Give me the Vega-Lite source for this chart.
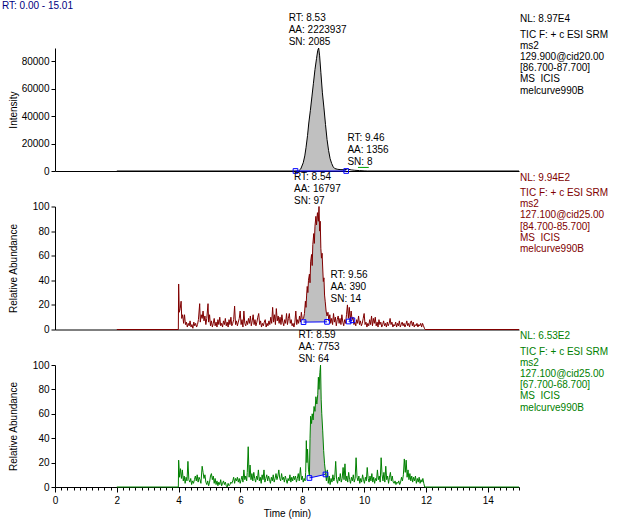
{
"$schema": "https://vega.github.io/schema/vega-lite/v6.json",
"background": "white",
"padding": {"left": 2, "top": 1, "right": 2, "bottom": 2},
"spacing": 35.5,
"bounds": "flush",
"datasets": {
"p1": [{"t":2,"v":0},{"t":7.8,"v":0},{"t":7.88,"v":0,"b":0},{"t":7.95,"v":1500,"b":0},{"t":8.03,"v":6000,"b":0},{"t":8.08,"v":11000,"b":0},{"t":8.12,"v":17000,"b":0},{"t":8.17,"v":26000,"b":0},{"t":8.21,"v":35000,"b":0},{"t":8.26,"v":44000,"b":0},{"t":8.31,"v":54000,"b":0},{"t":8.36,"v":64000,"b":0},{"t":8.41,"v":74000,"b":0},{"t":8.46,"v":82000,"b":0},{"t":8.5,"v":88000,"b":0},{"t":8.53,"v":89700,"b":0},{"t":8.56,"v":84000,"b":0},{"t":8.6,"v":72000,"b":0},{"t":8.65,"v":57000,"b":0},{"t":8.7,"v":46000,"b":0},{"t":8.75,"v":34000,"b":0},{"t":8.8,"v":23000,"b":0},{"t":8.85,"v":15000,"b":0},{"t":8.9,"v":9000,"b":0},{"t":8.95,"v":5500,"b":0},{"t":9.0,"v":3000,"b":0},{"t":9.05,"v":1800,"b":0},{"t":9.15,"v":1200,"b":0},{"t":9.25,"v":1000,"b":0},{"t":9.35,"v":900,"b":0},{"t":9.42,"v":1100,"b":0},{"t":9.46,"v":1600},{"t":9.5,"v":1200},{"t":9.58,"v":800},{"t":9.7,"v":500},{"t":9.85,"v":300},{"t":10.0,"v":100},{"t":10.1,"v":0},{"t":15.01,"v":0}],
"p2": [{"t":2,"v":0},{"t":3.99,"v":0},{"t":4,"v":37},{"t":4.02,"v":14},{"t":4.05,"v":17},{"t":4.08,"v":23},{"t":4.1,"v":9},{"t":4.13,"v":12},{"t":4.16,"v":5},{"t":4.19,"v":12},{"t":4.22,"v":4},{"t":4.25,"v":6},{"t":4.28,"v":2},{"t":4.31,"v":5},{"t":4.34,"v":3},{"t":4.37,"v":7},{"t":4.4,"v":2},{"t":4.43,"v":4},{"t":4.46,"v":1},{"t":4.49,"v":6},{"t":4.52,"v":3},{"t":4.55,"v":5},{"t":4.58,"v":2},{"t":4.61,"v":4},{"t":4.64,"v":8},{"t":4.68,"v":21},{"t":4.7,"v":6},{"t":4.73,"v":12},{"t":4.76,"v":9},{"t":4.79,"v":15},{"t":4.82,"v":7},{"t":4.85,"v":11},{"t":4.88,"v":4},{"t":4.91,"v":9},{"t":4.95,"v":21},{"t":4.97,"v":6},{"t":5,"v":12},{"t":5.03,"v":3},{"t":5.06,"v":7},{"t":5.09,"v":2},{"t":5.12,"v":5},{"t":5.15,"v":9},{"t":5.18,"v":3},{"t":5.21,"v":6},{"t":5.24,"v":2},{"t":5.27,"v":8},{"t":5.3,"v":4},{"t":5.33,"v":10},{"t":5.36,"v":3},{"t":5.39,"v":5},{"t":5.42,"v":2},{"t":5.45,"v":7},{"t":5.48,"v":4},{"t":5.51,"v":9},{"t":5.54,"v":3},{"t":5.57,"v":6},{"t":5.6,"v":2},{"t":5.63,"v":8},{"t":5.66,"v":4},{"t":5.69,"v":10},{"t":5.72,"v":3},{"t":5.75,"v":5},{"t":5.78,"v":8},{"t":5.81,"v":19},{"t":5.84,"v":4},{"t":5.87,"v":7},{"t":5.9,"v":3},{"t":5.93,"v":6},{"t":5.96,"v":9},{"t":5.99,"v":15},{"t":6.02,"v":4},{"t":6.05,"v":8},{"t":6.08,"v":2},{"t":6.11,"v":15},{"t":6.14,"v":5},{"t":6.17,"v":3},{"t":6.2,"v":7},{"t":6.23,"v":4},{"t":6.26,"v":9},{"t":6.29,"v":5},{"t":6.32,"v":11},{"t":6.35,"v":3},{"t":6.38,"v":7},{"t":6.41,"v":12},{"t":6.44,"v":4},{"t":6.47,"v":8},{"t":6.5,"v":3},{"t":6.53,"v":6},{"t":6.56,"v":10},{"t":6.59,"v":13},{"t":6.62,"v":4},{"t":6.65,"v":7},{"t":6.68,"v":2},{"t":6.71,"v":5},{"t":6.74,"v":3},{"t":6.77,"v":6},{"t":6.8,"v":8},{"t":6.83,"v":2},{"t":6.86,"v":5},{"t":6.89,"v":3},{"t":6.92,"v":7},{"t":6.95,"v":4},{"t":6.98,"v":10},{"t":7.01,"v":5},{"t":7.04,"v":18},{"t":7.07,"v":6},{"t":7.1,"v":12},{"t":7.13,"v":4},{"t":7.16,"v":17},{"t":7.19,"v":7},{"t":7.22,"v":11},{"t":7.25,"v":5},{"t":7.28,"v":10},{"t":7.31,"v":4},{"t":7.34,"v":12},{"t":7.37,"v":6},{"t":7.4,"v":3},{"t":7.43,"v":8},{"t":7.46,"v":5},{"t":7.49,"v":13},{"t":7.52,"v":4},{"t":7.55,"v":9},{"t":7.58,"v":13},{"t":7.61,"v":5},{"t":7.64,"v":8},{"t":7.67,"v":3},{"t":7.7,"v":5},{"t":7.73,"v":2},{"t":7.76,"v":6},{"t":7.79,"v":15},{"t":7.82,"v":4},{"t":7.85,"v":8},{"t":7.88,"v":5},{"t":7.91,"v":11},{"t":7.94,"v":6},{"t":7.97,"v":14},{"t":8,"v":8},
{"t":8.04,"v":9,"b":6},{"t":8.07,"v":13,"b":6},{"t":8.1,"v":23,"b":6},{"t":8.12,"v":18,"b":6},{"t":8.14,"v":28,"b":6},{"t":8.16,"v":35,"b":6},{"t":8.18,"v":30,"b":6},{"t":8.2,"v":40,"b":6},{"t":8.23,"v":45,"b":6},{"t":8.25,"v":38,"b":6},{"t":8.27,"v":55,"b":6},{"t":8.3,"v":61,"b":6},{"t":8.32,"v":52,"b":6},{"t":8.34,"v":69,"b":6},{"t":8.37,"v":78,"b":6},{"t":8.39,"v":70,"b":6.1},{"t":8.41,"v":84,"b":6.1},{"t":8.44,"v":92,"b":6.1},{"t":8.46,"v":85,"b":6.1},{"t":8.49,"v":95,"b":6.1},{"t":8.52,"v":88,"b":6.1},{"t":8.54,"v":100,"b":6.1},{"t":8.56,"v":80,"b":6.1},{"t":8.58,"v":88,"b":6.1},{"t":8.6,"v":66,"b":6.1},{"t":8.62,"v":58,"b":6.1},{"t":8.64,"v":62,"b":6.2},{"t":8.66,"v":50,"b":6.2},{"t":8.68,"v":39,"b":6.2},{"t":8.7,"v":42,"b":6.2},{"t":8.72,"v":28,"b":6.2},{"t":8.74,"v":23,"b":6.2},{"t":8.77,"v":15,"b":6.2},{"t":8.8,"v":11,"b":6.2},
{"t":8.83,"v":14},{"t":8.86,"v":7},{"t":8.89,"v":12},{"t":8.92,"v":5},{"t":8.95,"v":9},{"t":8.98,"v":4},{"t":9.01,"v":13},{"t":9.04,"v":6},{"t":9.07,"v":10},{"t":9.1,"v":3},{"t":9.13,"v":8},{"t":9.16,"v":11},{"t":9.19,"v":5},{"t":9.22,"v":9},{"t":9.25,"v":4},{"t":9.28,"v":12},{"t":9.31,"v":6},{"t":9.34,"v":3},{"t":9.37,"v":8},{"t":9.4,"v":5},{"t":9.43,"v":12},{"t":9.46,"v":20},{"t":9.49,"v":9},{"t":9.52,"v":18},{"t":9.55,"v":7},{"t":9.58,"v":15},{"t":9.61,"v":8},{"t":9.64,"v":10},{"t":9.67,"v":4},{"t":9.7,"v":6},{"t":9.73,"v":3},{"t":9.76,"v":8},{"t":9.79,"v":5},{"t":9.82,"v":11},{"t":9.85,"v":4},{"t":9.88,"v":7},{"t":9.91,"v":3},{"t":9.94,"v":5},{"t":9.97,"v":9},{"t":10,"v":13},{"t":10.03,"v":4},{"t":10.06,"v":6},{"t":10.09,"v":2},{"t":10.12,"v":5},{"t":10.15,"v":3},{"t":10.18,"v":8},{"t":10.21,"v":4},{"t":10.24,"v":11},{"t":10.27,"v":3},{"t":10.3,"v":9},{"t":10.33,"v":5},{"t":10.36,"v":10},{"t":10.39,"v":3},{"t":10.42,"v":6},{"t":10.45,"v":2},{"t":10.48,"v":8},{"t":10.51,"v":4},{"t":10.54,"v":6},{"t":10.57,"v":2},{"t":10.6,"v":4},{"t":10.63,"v":7},{"t":10.66,"v":3},{"t":10.69,"v":5},{"t":10.72,"v":2},{"t":10.75,"v":6},{"t":10.78,"v":3},{"t":10.81,"v":5},{"t":10.84,"v":9},{"t":10.87,"v":4},{"t":10.9,"v":6},{"t":10.93,"v":2},{"t":10.96,"v":4},{"t":10.99,"v":3},{"t":11.02,"v":6},{"t":11.05,"v":2},{"t":11.08,"v":5},{"t":11.11,"v":3},{"t":11.14,"v":7},{"t":11.17,"v":2},{"t":11.2,"v":4},{"t":11.23,"v":6},{"t":11.26,"v":3},{"t":11.29,"v":5},{"t":11.32,"v":2},{"t":11.35,"v":4},{"t":11.38,"v":7},{"t":11.41,"v":3},{"t":11.44,"v":5},{"t":11.47,"v":2},{"t":11.5,"v":6},{"t":11.53,"v":7},{"t":11.56,"v":3},{"t":11.59,"v":6},{"t":11.62,"v":2},{"t":11.65,"v":4},{"t":11.68,"v":3},{"t":11.71,"v":5},{"t":11.74,"v":2},{"t":11.77,"v":4},{"t":11.8,"v":3},{"t":11.83,"v":5},{"t":11.86,"v":2},{"t":11.89,"v":5},{"t":11.92,"v":3},{"t":11.95,"v":1},{"t":11.97,"v":0},{"t":15.01,"v":0}],
"p3": [{"t":2,"v":0},{"t":3.99,"v":0},{"t":4,"v":22},{"t":4.03,"v":8},{"t":4.06,"v":15},{"t":4.09,"v":7},{"t":4.12,"v":14},{"t":4.15,"v":5},{"t":4.18,"v":9},{"t":4.21,"v":3},{"t":4.24,"v":8},{"t":4.27,"v":5},{"t":4.3,"v":21},{"t":4.33,"v":6},{"t":4.36,"v":4},{"t":4.39,"v":7},{"t":4.42,"v":2},{"t":4.45,"v":5},{"t":4.48,"v":3},{"t":4.51,"v":6},{"t":4.54,"v":9},{"t":4.57,"v":5},{"t":4.6,"v":10},{"t":4.63,"v":4},{"t":4.66,"v":8},{"t":4.69,"v":6},{"t":4.72,"v":3},{"t":4.76,"v":17},{"t":4.79,"v":12},{"t":4.82,"v":7},{"t":4.85,"v":10},{"t":4.88,"v":4},{"t":4.91,"v":2},{"t":4.94,"v":5},{"t":4.97,"v":1},{"t":5,"v":4},{"t":5.03,"v":9},{"t":5.06,"v":11},{"t":5.09,"v":6},{"t":5.12,"v":9},{"t":5.15,"v":3},{"t":5.18,"v":7},{"t":5.21,"v":2},{"t":5.24,"v":5},{"t":5.27,"v":1},{"t":5.3,"v":4},{"t":5.33,"v":2},{"t":5.36,"v":6},{"t":5.39,"v":1},{"t":5.42,"v":3},{"t":5.45,"v":5},{"t":5.48,"v":2},{"t":5.51,"v":4},{"t":5.54,"v":1},{"t":5.57,"v":0},{"t":5.6,"v":3},{"t":5.63,"v":1},{"t":5.66,"v":2},{"t":5.69,"v":4},{"t":5.72,"v":3},{"t":5.75,"v":5},{"t":5.78,"v":8},{"t":5.81,"v":3},{"t":5.84,"v":7},{"t":5.87,"v":5},{"t":5.9,"v":8},{"t":5.93,"v":4},{"t":5.96,"v":7},{"t":5.99,"v":3},{"t":6.02,"v":6},{"t":6.05,"v":9},{"t":6.08,"v":4},{"t":6.11,"v":14},{"t":6.14,"v":6},{"t":6.17,"v":9},{"t":6.2,"v":5},{"t":6.22,"v":12},{"t":6.25,"v":33},{"t":6.28,"v":8},{"t":6.31,"v":18},{"t":6.34,"v":6},{"t":6.37,"v":11},{"t":6.4,"v":5},{"t":6.43,"v":12},{"t":6.46,"v":7},{"t":6.49,"v":4},{"t":6.52,"v":9},{"t":6.55,"v":6},{"t":6.58,"v":14},{"t":6.61,"v":5},{"t":6.64,"v":8},{"t":6.67,"v":3},{"t":6.7,"v":10},{"t":6.73,"v":6},{"t":6.76,"v":14},{"t":6.79,"v":4},{"t":6.82,"v":7},{"t":6.85,"v":10},{"t":6.88,"v":5},{"t":6.91,"v":9},{"t":6.94,"v":6},{"t":6.97,"v":3},{"t":7,"v":8},{"t":7.03,"v":5},{"t":7.06,"v":10},{"t":7.09,"v":4},{"t":7.12,"v":7},{"t":7.15,"v":11},{"t":7.18,"v":6},{"t":7.21,"v":9},{"t":7.24,"v":14},{"t":7.27,"v":7},{"t":7.3,"v":5},{"t":7.33,"v":11},{"t":7.36,"v":6},{"t":7.39,"v":8},{"t":7.42,"v":4},{"t":7.45,"v":9},{"t":7.48,"v":6},{"t":7.51,"v":3},{"t":7.54,"v":7},{"t":7.57,"v":5},{"t":7.6,"v":10},{"t":7.63,"v":4},{"t":7.66,"v":8},{"t":7.69,"v":5},{"t":7.72,"v":9},{"t":7.75,"v":6},{"t":7.78,"v":9},{"t":7.81,"v":4},{"t":7.84,"v":7},{"t":7.87,"v":11},{"t":7.9,"v":5},{"t":7.94,"v":16},{"t":7.97,"v":6},{"t":8,"v":9},{"t":8.03,"v":4},{"t":8.06,"v":7},{"t":8.09,"v":5},{"t":8.11,"v":12},{"t":8.13,"v":38},{"t":8.15,"v":20},{"t":8.17,"v":31},{"t":8.2,"v":14},
{"t":8.23,"v":9,"b":7.4},{"t":8.25,"v":40,"b":7.5},{"t":8.27,"v":58,"b":7.6},{"t":8.3,"v":52,"b":7.8},{"t":8.32,"v":60,"b":7.9},{"t":8.35,"v":55,"b":8.1},{"t":8.38,"v":66,"b":8.3},{"t":8.41,"v":62,"b":8.4},{"t":8.44,"v":74,"b":8.6},{"t":8.47,"v":68,"b":8.7},{"t":8.5,"v":76,"b":8.9},{"t":8.52,"v":90,"b":9.0},{"t":8.54,"v":80,"b":9.1},{"t":8.57,"v":94,"b":9.3},{"t":8.59,"v":100,"b":9.4},{"t":8.61,"v":72,"b":9.5},{"t":8.63,"v":60,"b":9.6},{"t":8.66,"v":46,"b":9.8},{"t":8.69,"v":30,"b":9.9},{"t":8.72,"v":19,"b":10.1},{"t":8.75,"v":12,"b":10.3},
{"t":8.78,"v":5},{"t":8.81,"v":14},{"t":8.84,"v":3},{"t":8.87,"v":9},{"t":8.9,"v":2},{"t":8.93,"v":7},{"t":8.96,"v":4},{"t":8.99,"v":10},{"t":9.02,"v":5},{"t":9.05,"v":8},{"t":9.08,"v":21},{"t":9.11,"v":6},{"t":9.14,"v":3},{"t":9.17,"v":8},{"t":9.2,"v":5},{"t":9.23,"v":11},{"t":9.26,"v":4},{"t":9.29,"v":7},{"t":9.32,"v":16},{"t":9.35,"v":6},{"t":9.38,"v":19},{"t":9.41,"v":5},{"t":9.44,"v":9},{"t":9.47,"v":4},{"t":9.5,"v":12},{"t":9.53,"v":6},{"t":9.56,"v":3},{"t":9.59,"v":8},{"t":9.62,"v":5},{"t":9.65,"v":10},{"t":9.68,"v":4},{"t":9.71,"v":7},{"t":9.74,"v":24},{"t":9.77,"v":8},{"t":9.8,"v":5},{"t":9.83,"v":9},{"t":9.86,"v":3},{"t":9.89,"v":7},{"t":9.92,"v":4},{"t":9.95,"v":10},{"t":9.98,"v":6},{"t":10.01,"v":3},{"t":10.04,"v":8},{"t":10.07,"v":5},{"t":10.1,"v":16},{"t":10.13,"v":7},{"t":10.16,"v":4},{"t":10.19,"v":9},{"t":10.22,"v":5},{"t":10.25,"v":11},{"t":10.28,"v":4},{"t":10.31,"v":8},{"t":10.34,"v":3},{"t":10.37,"v":7},{"t":10.4,"v":5},{"t":10.43,"v":14},{"t":10.46,"v":6},{"t":10.49,"v":9},{"t":10.52,"v":4},{"t":10.55,"v":24},{"t":10.58,"v":10},{"t":10.61,"v":5},{"t":10.64,"v":12},{"t":10.67,"v":4},{"t":10.7,"v":17},{"t":10.73,"v":6},{"t":10.76,"v":9},{"t":10.79,"v":3},{"t":10.82,"v":8},{"t":10.85,"v":12},{"t":10.88,"v":5},{"t":10.91,"v":9},{"t":10.94,"v":4},{"t":10.97,"v":3},{"t":11,"v":5},{"t":11.03,"v":2},{"t":11.06,"v":4},{"t":11.09,"v":3},{"t":11.12,"v":5},{"t":11.15,"v":2},{"t":11.18,"v":4},{"t":11.21,"v":8},{"t":11.24,"v":5},{"t":11.27,"v":10},{"t":11.3,"v":23},{"t":11.33,"v":12},{"t":11.36,"v":22},{"t":11.39,"v":8},{"t":11.42,"v":14},{"t":11.45,"v":6},{"t":11.48,"v":11},{"t":11.51,"v":5},{"t":11.54,"v":9},{"t":11.57,"v":4},{"t":11.6,"v":8},{"t":11.63,"v":5},{"t":11.66,"v":9},{"t":11.69,"v":3},{"t":11.72,"v":7},{"t":11.75,"v":4},{"t":11.78,"v":8},{"t":11.81,"v":3},{"t":11.84,"v":6},{"t":11.87,"v":4},{"t":11.9,"v":7},{"t":11.93,"v":3},{"t":11.96,"v":0},{"t":15.01,"v":0}],
"base": [{"p":1,"s":"a","t":7.78,"v":0},{"p":1,"s":"a","t":9.42,"v":0},{"p":2,"s":"a","t":8.04,"v":6},{"p":2,"s":"a","t":8.8,"v":6.2},{"p":2,"s":"b","t":9.5,"v":6.5},{"p":2,"s":"b","t":9.62,"v":7.5},{"p":3,"s":"a","t":8.23,"v":7.4},{"p":3,"s":"a","t":8.75,"v":10.3}],
"grn": [{"t":9.8,"v":2600},{"t":10.15,"v":2600}],
"lab": [{"p":1,"k":"top","t":8.53,"v":89700,"txt":"RT: 8.53\nAA: 2223937\nSN: 2085"},{"p":1,"k":"side","t":9.46,"v":1600,"txt":"RT: 9.46\nAA: 1356\nSN: 8"},{"p":2,"k":"top","t":8.54,"v":100,"txt":"RT: 8.54\nAA: 16797\nSN: 97"},{"p":2,"k":"side","t":9.56,"v":20,"txt":"RT: 9.56\nAA: 390\nSN: 14"},{"p":3,"k":"top","t":8.59,"v":100,"txt":"RT: 8.59\nAA: 7753\nSN: 64"}],
"info": [{"p":1,"t":15.01,"v":89700,"nl":"NL: 8.97E4","info":"TIC F: + c ESI SRM\nms2\n129.900@cid20.00\n[86.700-87.700]\nMS\u00a0 ICIS\nmelcurve990B"},{"p":2,"t":15.01,"v":100,"nl":"NL: 9.94E2","info":"TIC F: + c ESI SRM\nms2\n127.100@cid25.00\n[84.700-85.700]\nMS\u00a0 ICIS\nmelcurve990B"},{"p":3,"t":15.01,"v":100,"nl":"NL: 6.53E2","info":"TIC F: + c ESI SRM\nms2\n127.100@cid25.00\n[67.700-68.700]\nMS\u00a0 ICIS\nmelcurve990B"}]
},
"vconcat": [
{
"width": 464, "height": 123,
"title": {"text": "RT: 0.00 - 15.01", "anchor": "start", "frame": "group", "dx": -53, "offset": 2, "fontSize": 10, "fontWeight": "normal", "color": "#000080", "font": "Liberation Sans"},
"data": {"name": "p1"},
"encoding": {
"x": {"field": "t", "type": "quantitative", "scale": {"domain": [0, 15.01], "nice": false, "zero": false}, "axis": {"title": null, "labels": false, "ticks": false}},
"y": {"field": "v", "type": "quantitative", "scale": {"domain": [0, 89700], "nice": false}, "axis": {"title": "Intensity", "values": [0, 20000, 40000, 60000, 80000], "format": "d", "titleX": -37, "titleY": 61.5}}
},
"layer": [
{"transform": [{"filter": "isValid(datum.b)"}], "mark": {"type": "area", "color": "#c0c0c0"}, "encoding": {"y2": {"field": "b"}}},
{"mark": {"type": "line", "color": "#000000", "strokeWidth": 1}},
{"data": {"name": "base"}, "transform": [{"filter": "datum.p == 1"}], "mark": {"type": "line", "color": "#0000ff", "strokeWidth": 1}, "encoding": {"detail": {"field": "s"}}},
{"data": {"name": "base"}, "transform": [{"filter": "datum.p == 1"}], "mark": {"type": "point", "shape": "square", "filled": false, "color": "#0000ff", "size": 22, "strokeWidth": 1, "opacity": 1}},
{"data": {"name": "grn"}, "mark": {"type": "line", "color": "#00a000", "strokeWidth": 1}},
{"data": {"name": "lab"}, "transform": [{"filter": "datum.p == 1 && datum.k == 'top'"}], "mark": {"type": "text", "align": "left", "baseline": "bottom", "dx": -30, "dy": -25, "lineBreak": "\n", "lineHeight": 12, "fontSize": 10, "color": "#000000"}, "encoding": {"text": {"field": "txt"}}},
{"data": {"name": "lab"}, "transform": [{"filter": "datum.p == 1 && datum.k == 'side'"}], "mark": {"type": "text", "align": "left", "baseline": "bottom", "dx": 0, "dy": -26, "lineBreak": "\n", "lineHeight": 12, "fontSize": 10, "color": "#000000"}, "encoding": {"text": {"field": "txt"}}},
{"data": {"name": "info"}, "transform": [{"filter": "datum.p == 1"}], "mark": {"type": "text", "align": "left", "baseline": "middle", "dx": 1, "dy": -29, "fontSize": 10, "color": "#000000"}, "encoding": {"text": {"field": "nl"}}},
{"data": {"name": "info"}, "transform": [{"filter": "datum.p == 1"}], "mark": {"type": "text", "align": "left", "baseline": "top", "dx": 1, "dy": -18.5, "lineBreak": "\n", "lineHeight": 11.2, "fontSize": 10, "color": "#000000"}, "encoding": {"text": {"field": "info"}}}
]
},
{
"width": 464, "height": 123,
"data": {"name": "p2"},
"encoding": {
"x": {"field": "t", "type": "quantitative", "scale": {"domain": [0, 15.01], "nice": false, "zero": false}, "axis": {"title": null, "labels": false, "ticks": false}},
"y": {"field": "v", "type": "quantitative", "scale": {"domain": [0, 100], "nice": false}, "axis": {"title": "Relative Abundance", "values": [0, 20, 40, 60, 80, 100], "titleX": -37, "titleY": 61.5}}
},
"layer": [
{"transform": [{"filter": "isValid(datum.b)"}], "mark": {"type": "area", "color": "#c0c0c0"}, "encoding": {"y2": {"field": "b"}}},
{"mark": {"type": "line", "color": "#800000", "strokeWidth": 1}},
{"data": {"name": "base"}, "transform": [{"filter": "datum.p == 2"}], "mark": {"type": "line", "color": "#0000ff", "strokeWidth": 1}, "encoding": {"detail": {"field": "s"}}},
{"data": {"name": "base"}, "transform": [{"filter": "datum.p == 2"}], "mark": {"type": "point", "shape": "square", "filled": false, "color": "#0000ff", "size": 22, "strokeWidth": 1, "opacity": 1}},
{"data": {"name": "lab"}, "transform": [{"filter": "datum.p == 2 && datum.k == 'top'"}], "mark": {"type": "text", "align": "left", "baseline": "bottom", "dx": -25, "dy": -25, "lineBreak": "\n", "lineHeight": 12, "fontSize": 10, "color": "#000000"}, "encoding": {"text": {"field": "txt"}}},
{"data": {"name": "lab"}, "transform": [{"filter": "datum.p == 2 && datum.k == 'side'"}], "mark": {"type": "text", "align": "left", "baseline": "bottom", "dx": -20, "dy": -25, "lineBreak": "\n", "lineHeight": 12, "fontSize": 10, "color": "#000000"}, "encoding": {"text": {"field": "txt"}}},
{"data": {"name": "info"}, "transform": [{"filter": "datum.p == 2"}], "mark": {"type": "text", "align": "left", "baseline": "middle", "dx": 1, "dy": -29, "fontSize": 10, "color": "#800000"}, "encoding": {"text": {"field": "nl"}}},
{"data": {"name": "info"}, "transform": [{"filter": "datum.p == 2"}], "mark": {"type": "text", "align": "left", "baseline": "top", "dx": 1, "dy": -18.5, "lineBreak": "\n", "lineHeight": 11.2, "fontSize": 10, "color": "#800000"}, "encoding": {"text": {"field": "info"}}}
]
},
{
"width": 464, "height": 122,
"data": {"name": "p3"},
"encoding": {
"x": {"field": "t", "type": "quantitative", "scale": {"domain": [0, 15.01], "nice": false, "zero": false}, "axis": {"title": "Time (min)", "values": [0,0.2,0.4,0.6,0.8,1,1.2,1.4,1.6,1.8,2,2.2,2.4,2.6,2.8,3,3.2,3.4,3.6,3.8,4,4.2,4.4,4.6,4.8,5,5.2,5.4,5.6,5.8,6,6.2,6.4,6.6,6.8,7,7.2,7.4,7.6,7.8,8,8.2,8.4,8.6,8.8,9,9.2,9.4,9.6,9.8,10,10.2,10.4,10.6,10.8,11,11.2,11.4,11.6,11.8,12,12.2,12.4,12.6,12.8,13,13.2,13.4,13.6,13.8,14,14.2,14.4,14.6,14.8,15], "labelExpr": "datum.value % 2 === 0 ? '' + datum.value : ''", "tickSize": {"condition": {"test": "datum.value % 2 === 0", "value": 5}, "value": 3}, "labelPadding": 3, "titlePadding": 3, "labelOverlap": false, "labelFlush": false}},
"y": {"field": "v", "type": "quantitative", "scale": {"domain": [0, 100], "nice": false}, "axis": {"title": "Relative Abundance", "values": [0, 20, 40, 60, 80, 100], "titleX": -37, "titleY": 61}}
},
"layer": [
{"transform": [{"filter": "isValid(datum.b)"}], "mark": {"type": "area", "color": "#c0c0c0"}, "encoding": {"y2": {"field": "b"}}},
{"mark": {"type": "line", "color": "#008000", "strokeWidth": 1}},
{"data": {"name": "base"}, "transform": [{"filter": "datum.p == 3"}], "mark": {"type": "line", "color": "#0000ff", "strokeWidth": 1}, "encoding": {"detail": {"field": "s"}}},
{"data": {"name": "base"}, "transform": [{"filter": "datum.p == 3"}], "mark": {"type": "point", "shape": "square", "filled": false, "color": "#0000ff", "size": 22, "strokeWidth": 1, "opacity": 1}},
{"data": {"name": "lab"}, "transform": [{"filter": "datum.p == 3 && datum.k == 'top'"}], "mark": {"type": "text", "align": "left", "baseline": "bottom", "dx": -22, "dy": -25, "lineBreak": "\n", "lineHeight": 12, "fontSize": 10, "color": "#000000"}, "encoding": {"text": {"field": "txt"}}},
{"data": {"name": "info"}, "transform": [{"filter": "datum.p == 3"}], "mark": {"type": "text", "align": "left", "baseline": "middle", "dx": 1, "dy": -29, "fontSize": 10, "color": "#008000"}, "encoding": {"text": {"field": "nl"}}},
{"data": {"name": "info"}, "transform": [{"filter": "datum.p == 3"}], "mark": {"type": "text", "align": "left", "baseline": "top", "dx": 1, "dy": -18.5, "lineBreak": "\n", "lineHeight": 11.2, "fontSize": 10, "color": "#008000"}, "encoding": {"text": {"field": "info"}}}
]
}
],
"config": {
"font": "Liberation Sans",
"view": {"stroke": null},
"axis": {"labelFont": "Liberation Sans", "titleFont": "Liberation Sans", "labelFontSize": 10, "titleFontSize": 10, "titleFontWeight": "normal", "labelColor": "#000000", "titleColor": "#000000", "domainColor": "#000000", "tickColor": "#000000", "grid": false, "tickSize": 4, "labelPadding": 2, "labelFlush": false},
"text": {"font": "Liberation Sans", "fontSize": 10}
}
}
